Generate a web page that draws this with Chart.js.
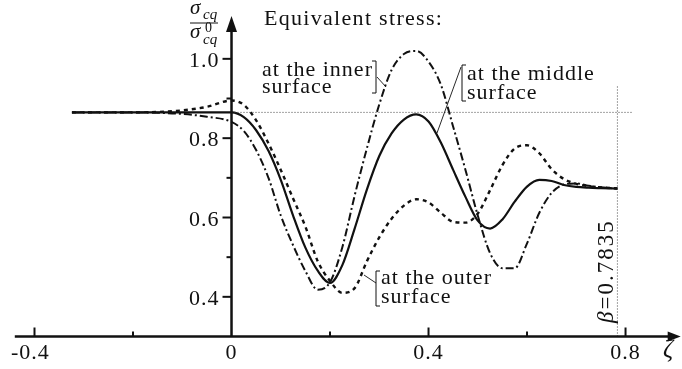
<!DOCTYPE html>
<html>
<head>
<meta charset="utf-8">
<script src="https://cdn.jsdelivr.net/npm/chart.js@4.4.1/dist/chart.umd.min.js"></script>
<style>
  html, body { margin: 0; padding: 0; background: #fff; }
  #wrap { width: 682px; height: 369px; }
</style>
</head>
<body>
<div id="wrap"><canvas id="stress" width="682" height="369"></canvas></div>
<script>
// zeta grid and the three equivalent-stress curves (sigma_cq / sigma_cq^0)
const zeta = [-0.324, -0.25, -0.2, -0.15, -0.1, -0.05, 0,
  0.025, 0.05, 0.075, 0.1, 0.125, 0.15, 0.175, 0.2, 0.225, 0.25,
  0.275, 0.3, 0.325, 0.35, 0.375, 0.4, 0.425, 0.45, 0.475, 0.5,
  0.525, 0.55, 0.575, 0.6, 0.625, 0.65, 0.675, 0.7, 0.725, 0.75, 0.7835];

const innerSurface = [0.865, 0.865, 0.865, 0.864, 0.861, 0.854, 0.841,
  0.818, 0.770, 0.700, 0.605, 0.530, 0.465, 0.418, 0.437, 0.525, 0.655,
  0.775, 0.885, 0.972, 1.012, 1.020, 0.993, 0.935, 0.829, 0.720, 0.605,
  0.510, 0.472, 0.472, 0.535, 0.612, 0.662, 0.683, 0.686, 0.680, 0.676, 0.673];

const middleSurface = [0.865, 0.865, 0.865, 0.865, 0.865, 0.865, 0.865,
  0.853, 0.820, 0.768, 0.695, 0.605, 0.524, 0.466, 0.435, 0.480, 0.572,
  0.671, 0.755, 0.812, 0.847, 0.860, 0.842, 0.789, 0.720, 0.652, 0.592,
  0.572, 0.595, 0.640, 0.678, 0.695, 0.692, 0.682, 0.677, 0.675, 0.674, 0.673];

const outerSurface = [0.865, 0.865, 0.865, 0.866, 0.870, 0.879, 0.895,
  0.884, 0.845, 0.787, 0.720, 0.648, 0.577, 0.490, 0.440, 0.410, 0.422,
  0.490, 0.550, 0.597, 0.630, 0.646, 0.638, 0.612, 0.589, 0.587, 0.610,
  0.669, 0.732, 0.774, 0.782, 0.762, 0.722, 0.697, 0.685, 0.679, 0.676, 0.673];

// reference level and the beta line
const levelY = 0.865;
const levelEnd = 0.814;
const beta = 0.7835;
const betaTop = 0.934;

// axes
const xMin = -0.44, xMax = 0.912;
const yMin = 0.3, yMax = 1.108;
const xTicks = [-0.4, 0, 0.4, 0.8];
const xTickLabels = ['-0.4', '0', '0.4', '0.8'];
const xMinor = [-0.2, 0.2, 0.6];
const yTicks = [0.4, 0.6, 0.8, 1.0];
const yTickLabels = ['0.4', '0.6', '0.8', '1.0'];
const yMinor = [0.5, 0.7, 0.9];

const pts = arr => zeta.map((z, i) => ({ x: z, y: arr[i] }));
const SERIF = "'Liberation Serif', 'Times New Roman', serif";
const INK = '#111';

function bracket(ctx, x, y1, y2, dir) {
  ctx.beginPath();
  ctx.moveTo(x + dir * 4, y1);
  ctx.lineTo(x, y1);
  ctx.lineTo(x, y2);
  ctx.lineTo(x + dir * 4, y2);
  ctx.stroke();
}

function line(ctx, x1, y1, x2, y2) {
  ctx.beginPath();
  ctx.moveTo(x1, y1);
  ctx.lineTo(x2, y2);
  ctx.stroke();
}

const crossAxes = {
  id: 'crossAxes',
  afterDatasetsDraw(chart) {
    const { ctx, scales: { x, y } } = chart;
    const x0 = x.getPixelForValue(0);
    const yb = y.getPixelForValue(yMin);
    const xl = x.getPixelForValue(xMin);
    const xr = x.getPixelForValue(xMax);
    const yt = y.getPixelForValue(yMax);

    ctx.save();
    ctx.strokeStyle = INK;
    ctx.fillStyle = INK;

    // axis lines
    ctx.lineWidth = 2.5;
    line(ctx, xl, yb, xr - 8, yb);
    line(ctx, x0, yb, x0, yt + 8);

    // arrow heads
    ctx.beginPath();
    ctx.moveTo(xr, yb);
    ctx.lineTo(xr - 13, yb - 5);
    ctx.lineTo(xr - 13, yb + 5);
    ctx.closePath();
    ctx.fill();
    ctx.beginPath();
    ctx.moveTo(x0, yt);
    ctx.lineTo(x0 - 5.5, yt + 16);
    ctx.lineTo(x0 + 5.5, yt + 16);
    ctx.closePath();
    ctx.fill();

    // ticks
    ctx.lineWidth = 2;
    xTicks.forEach(v => { if (v !== 0) { const p = x.getPixelForValue(v); line(ctx, p, yb, p, yb - 9); } });
    xMinor.forEach(v => { const p = x.getPixelForValue(v); line(ctx, p, yb, p, yb - 5); });
    yTicks.forEach(v => { const p = y.getPixelForValue(v); line(ctx, x0, p, x0 - 9, p); });
    yMinor.forEach(v => { const p = y.getPixelForValue(v); line(ctx, x0, p, x0 - 5, p); });

    // tick labels
    ctx.font = '22px ' + SERIF;
    ctx.letterSpacing = '1px';
    ctx.textBaseline = 'alphabetic';
    xTicks.forEach((v, i) => {
      const p = x.getPixelForValue(v);
      const txt = xTickLabels[i];
      const body = txt.replace('-', '');
      ctx.textAlign = 'center';
      ctx.fillText(body, p, yb + 22);
      if (txt.startsWith('-')) {
        const w = ctx.measureText(body).width;
        ctx.textAlign = 'right';
        ctx.fillText('-', p - w / 2, yb + 22);
      }
    });
    ctx.textAlign = 'right';
    yTicks.forEach((v, i) => {
      ctx.fillText(yTickLabels[i], x0 - 12, y.getPixelForValue(v) + 8);
    });

    // titles and curve labels
    ctx.textAlign = 'left';
    ctx.letterSpacing = '1.3px';
    ctx.fillText('Equivalent stress:', 264, 25);
    ctx.letterSpacing = '1px';
    ctx.fillText('at the inner', 262, 76);
    ctx.fillText('surface', 262, 93);
    ctx.fillText('at the middle', 467, 80);
    ctx.fillText('surface', 467, 99);
    ctx.fillText('at the outer', 381, 284);
    ctx.fillText('surface', 381, 303);

    ctx.lineWidth = 1;
    bracket(ctx, 376, 61, 93, -1);
    bracket(ctx, 462, 65, 101, 1);
    bracket(ctx, 376, 271, 306, 1);
    ctx.lineWidth = 0.9;
    line(ctx, 377, 77, 386, 87);
    line(ctx, 461, 67, 437, 133);
    line(ctx, 376, 283, 364, 275);

    // beta label, rotated
    ctx.save();
    ctx.translate(613, 323);
    ctx.rotate(-Math.PI / 2);
    ctx.letterSpacing = '2px';
    ctx.font = 'italic 23px ' + SERIF;
    ctx.fillText('β', 0, 0);
    const bw = ctx.measureText('β').width;
    ctx.font = '23px ' + SERIF;
    ctx.fillText('=0.7835', bw, 0);
    ctx.restore();

    // axis names
    ctx.font = 'italic 25px ' + SERIF;
    ctx.fillText('ζ', 663, 357);

    ctx.letterSpacing = '0px';
    ctx.font = 'italic 21px ' + SERIF;
    ctx.fillText('σ', 190, 14);
    ctx.fillText('σ', 190, 38);
    ctx.font = 'italic 15px ' + SERIF;
    ctx.fillText('cq', 203, 19);
    ctx.fillText('cq', 203, 44);
    ctx.font = '14px ' + SERIF;
    ctx.fillText('0', 205, 32);
    ctx.lineWidth = 1;
    line(ctx, 190, 23, 218, 23);

    ctx.restore();
  }
};

const curve = (data, width, dash) => ({
  data: pts(data),
  borderColor: INK,
  borderWidth: width,
  borderDash: dash,
  pointRadius: 0,
  cubicInterpolationMode: 'monotone',
  fill: false
});

new Chart(document.getElementById('stress'), {
  type: 'line',
  data: {
    datasets: [
      {
        data: [{ x: 0, y: levelY }, { x: levelEnd, y: levelY }],
        borderColor: '#444', borderWidth: 1, borderDash: [1, 2], pointRadius: 0
      },
      {
        data: [{ x: beta, y: yMin }, { x: beta, y: betaTop }],
        borderColor: '#444', borderWidth: 1, borderDash: [1, 2], pointRadius: 0
      },
      curve(innerSurface, 2, [8, 3, 2, 3]),
      curve(middleSurface, 2.2, []),
      curve(outerSurface, 2.4, [4, 4])
    ]
  },
  options: {
    responsive: false,
    animation: false,
    layout: { padding: { left: 14.8, right: 1.3, top: 16, bottom: 32.5 } },
    scales: {
      x: { type: 'linear', min: xMin, max: xMax, display: false },
      y: { type: 'linear', min: yMin, max: yMax, display: false }
    },
    plugins: { legend: { display: false }, tooltip: { enabled: false } }
  },
  plugins: [crossAxes]
});
</script>
</body>
</html>
